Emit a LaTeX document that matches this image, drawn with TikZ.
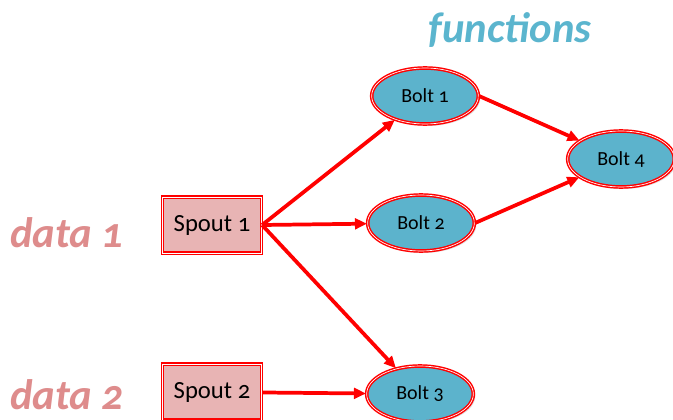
\documentclass[tikz,border=0pt]{standalone}
\usepackage{fontspec}
\setmainfont{Carlito}[Numbers=OldStyle]
\usetikzlibrary{arrows.meta,shapes.geometric,shadows}
\definecolor{boltblue}{RGB}{92,179,204}
\definecolor{spoutpink}{RGB}{232,180,180}
\definecolor{funcblue}{RGB}{91,181,206}
\definecolor{datapink}{RGB}{222,140,140}

\begin{document}
\begin{tikzpicture}[x=0.75pt,y=-0.75pt,
    spoutbox/.style={rectangle, draw=red, double=white, double distance=0.5pt, line width=1.1pt,
      fill=spoutpink, minimum width=74pt, minimum height=42pt, font=\fontsize{18.5}{20}\selectfont,
      drop shadow={opacity=0.25, shadow xshift=1.5pt, shadow yshift=-1.5pt}},
    bolt/.style={ellipse, draw=red, double=white, double distance=0.5pt, line width=1.1pt,
      fill=boltblue, minimum width=80pt, minimum height=42pt, inner sep=0pt, font=\fontsize{15}{16}\selectfont,
      drop shadow={opacity=0.25, shadow xshift=1.5pt, shadow yshift=-1.5pt}},
    flow/.style={draw=red, line width=2.8pt, -{Triangle[length=9pt,width=8pt]}},
    tag/.style={font=\fontsize{32}{36}\selectfont\bfseries\itshape}]
    \useasboundingbox (0,0) rectangle (673,420);
    % sources
    \node[spoutbox] (spout1) at (212,225) {Spout 1};
    \node[spoutbox] (spout2) at (212,392) {Spout 2};
    % processing
    \node[bolt] (bolt1) at (425,96) {Bolt 1};
    \node[bolt] (bolt2) at (421,223) {Bolt 2};
    \node[bolt] (bolt3) at (420,394) {Bolt 3};
    \node[bolt] (bolt4) at (621,159) {Bolt 4};
    % captions
    \node[tag, text=funcblue] (functions) at (510,30) {functions};
    \node[tag, text=datapink] (data1) at (67,233) {data 1};
    \node[tag, text=datapink] (data2) at (67,395) {data 2};
    % streams
    \draw[flow] (spout1.east) -- (bolt1);
    \draw[flow] (spout1.east) -- (bolt2);
    \draw[flow] (spout1.east) -- (bolt3);
    \draw[flow] (spout2) -- (bolt3);
    \draw[flow] (bolt1.east) -- (bolt4);
    \draw[flow] (bolt2.east) -- (bolt4);
\end{tikzpicture}
\end{document}
